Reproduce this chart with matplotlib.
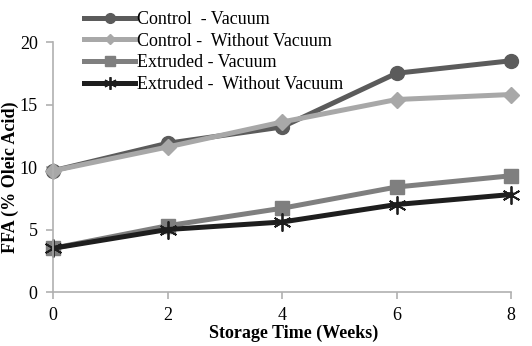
import matplotlib.pyplot as plt

plt.rcParams['font.family'] = ['Liberation Serif', 'DejaVu Serif']

weeks = [0, 2, 4, 6, 8]
control_vacuum = [9.7, 11.9, 13.2, 17.5, 18.5]
control_no_vacuum = [9.7, 11.6, 13.6, 15.4, 15.8]
extruded_vacuum = [3.5, 5.3, 6.7, 8.4, 9.3]
extruded_no_vacuum = [3.5, 5.0, 5.6, 7.0, 7.8]

labels = ["Control  - Vacuum", "Control -  Without Vacuum",
          "Extruded - Vacuum", "Extruded -  Without Vacuum"]

fig = plt.figure(figsize=(5.32, 3.46), dpi=100)
ax = fig.add_axes([0.0996, 0.156, 0.861, 0.7226])

ax.plot(weeks, control_vacuum, color='#5b5b5b', lw=3.6, marker='o', ms=10,
        label=labels[0], clip_on=False)
ax.plot(weeks, control_no_vacuum, color='#a8a8a8', lw=3.6, marker='D', ms=8,
        label=labels[1], clip_on=False)
ax.plot(weeks, extruded_vacuum, color='#7f7f7f', lw=3.6, marker='s', ms=10,
        label=labels[2], clip_on=False)
ax.plot(weeks, extruded_no_vacuum, color='#1e1e1e', lw=3.6, marker=(6, 2, 0),
        ms=13, mew=1.3, label=labels[3], clip_on=False)

ax.set_xlim(0, 8)
ax.set_ylim(0, 20)
ax.set_xticks([0, 2, 4, 6, 8])
ax.set_yticks([0, 5, 10, 15, 20])
ax.tick_params(labelsize=13, color='#b0b0b0', length=5, width=1.2, pad=6)
for s in ['top', 'right']:
    ax.spines[s].set_visible(False)
for s in ['left', 'bottom']:
    ax.spines[s].set_color('#b0b0b0')
    ax.spines[s].set_linewidth(1.2)

ax.set_xlabel("Storage Time (Weeks)", fontsize=13, fontweight='bold')
ax.set_ylabel("FFA (% Oleic Acid)", fontsize=13, fontweight='bold')
ax.xaxis.set_label_coords(0.525, -0.13)
ax.yaxis.set_label_coords(-0.075, 0.46)

fig.legend(loc='upper left', bbox_to_anchor=(0.138, 1.0), frameon=False,
           fontsize=13, handlelength=2.8, handletextpad=0.1, labelspacing=0.26,
           borderaxespad=0.2, markerscale=0.7)

fig.savefig('out.png', dpi=100)
